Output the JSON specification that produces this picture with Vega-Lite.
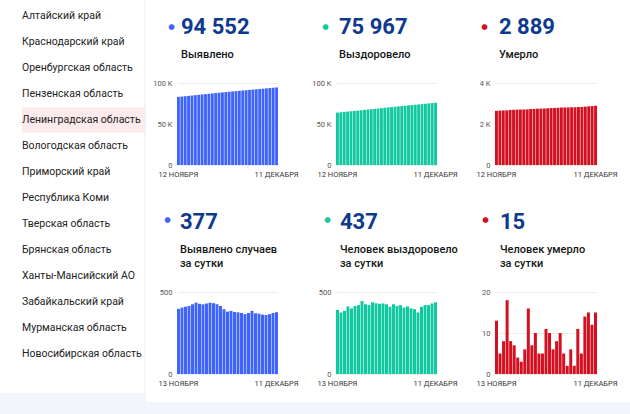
{
  "$schema": "https://vega.github.io/schema/vega-lite/v6.json",
  "background": "#ffffff",
  "padding": 0,
  "columns": 4,
  "align": "none",
  "bounds": "flush",
  "spacing": {"row": 127, "column": 58},
  "config": {
    "font": "Roboto",
    "view": {"stroke": null},
    "axisX": {"domain": false, "ticks": false, "grid": false, "labelAngle": 0, "labelFontSize": 7.5, "labelColor": "#333333", "labelPadding": 5, "title": null},
    "axisY": {"domain": false, "ticks": false, "grid": true, "gridColor": "#ececec", "labelFontSize": 7.5, "labelColor": "#555555", "labelPadding": 5, "titleAngle": 0, "titleFont": "DejaVu Sans", "titleFontSize": 7.5, "titleAlign": "center", "titleBaseline": "middle"},
    "title": {"anchor": "start", "frame": "group", "font": "Roboto", "fontSize": 22, "fontWeight": 700, "color": "#0d3a8f", "subtitleFont": "Roboto", "subtitleFontSize": 11, "subtitleFontWeight": 500, "subtitleColor": "#151515", "subtitleLineHeight": 14.3, "subtitlePadding": 10}
  },
  "datasets": {
    "regions": [
      {"order": 1, "region": "Алтайский край"},
      {"order": 2, "region": "Краснодарский край"},
      {"order": 3, "region": "Оренбургская область"},
      {"order": 4, "region": "Пензенская область"},
      {"order": 5, "region": "Ленинградская область"},
      {"order": 6, "region": "Вологодская область"},
      {"order": 7, "region": "Приморский край"},
      {"order": 8, "region": "Республика Коми"},
      {"order": 9, "region": "Тверская область"},
      {"order": 10, "region": "Брянская область"},
      {"order": 11, "region": "Ханты-Мансийский АО"},
      {"order": 12, "region": "Забайкальский край"},
      {"order": 13, "region": "Мурманская область"},
      {"order": 14, "region": "Новосибирская область"}
    ],
    "cumBlue": [
      {"date": "12 НОЯБРЯ", "value": 83093}, {"date": "13 НОЯБРЯ", "value": 83490}, {"date": "14 НОЯБРЯ", "value": 83895}, {"date": "15 НОЯБРЯ", "value": 84305}, {"date": "16 НОЯБРЯ", "value": 84720}, {"date": "17 НОЯБРЯ", "value": 85145}, {"date": "18 НОЯБРЯ", "value": 85580}, {"date": "19 НОЯБРЯ", "value": 86008}, {"date": "20 НОЯБРЯ", "value": 86433}, {"date": "21 НОЯБРЯ", "value": 86863}, {"date": "22 НОЯБРЯ", "value": 87298}, {"date": "23 НОЯБРЯ", "value": 87730}, {"date": "24 НОЯБРЯ", "value": 88155}, {"date": "25 НОЯБРЯ", "value": 88570}, {"date": "26 НОЯБРЯ", "value": 88965}, {"date": "27 НОЯБРЯ", "value": 89345}, {"date": "28 НОЯБРЯ", "value": 89730}, {"date": "29 НОЯБРЯ", "value": 90108}, {"date": "30 НОЯБРЯ", "value": 90484}, {"date": "1 ДЕКАБРЯ", "value": 90856}, {"date": "2 ДЕКАБРЯ", "value": 91221}, {"date": "3 ДЕКАБРЯ", "value": 91593}, {"date": "4 ДЕКАБРЯ", "value": 91978}, {"date": "5 ДЕКАБРЯ", "value": 92348}, {"date": "6 ДЕКАБРЯ", "value": 92716}, {"date": "7 ДЕКАБРЯ", "value": 93078}, {"date": "8 ДЕКАБРЯ", "value": 93438}, {"date": "9 ДЕКАБРЯ", "value": 93803}, {"date": "10 ДЕКАБРЯ", "value": 94175}, {"date": "11 ДЕКАБРЯ", "value": 94552}
    ],
    "cumGreen": [
      {"date": "12 НОЯБРЯ", "value": 63953}, {"date": "13 НОЯБРЯ", "value": 64344}, {"date": "14 НОЯБРЯ", "value": 64719}, {"date": "15 НОЯБРЯ", "value": 65104}, {"date": "16 НОЯБРЯ", "value": 65516}, {"date": "17 НОЯБРЯ", "value": 65916}, {"date": "18 НОЯБРЯ", "value": 66331}, {"date": "19 НОЯБРЯ", "value": 66751}, {"date": "20 НОЯБРЯ", "value": 67196}, {"date": "21 НОЯБРЯ", "value": 67621}, {"date": "22 НОЯБРЯ", "value": 68041}, {"date": "23 НОЯБРЯ", "value": 68478}, {"date": "24 НОЯБРЯ", "value": 68910}, {"date": "25 НОЯБРЯ", "value": 69338}, {"date": "26 НОЯБРЯ", "value": 69768}, {"date": "27 НОЯБРЯ", "value": 70193}, {"date": "28 НОЯБРЯ", "value": 70603}, {"date": "29 НОЯБРЯ", "value": 71028}, {"date": "30 НОЯБРЯ", "value": 71443}, {"date": "1 ДЕКАБРЯ", "value": 71863}, {"date": "2 ДЕКАБРЯ", "value": 72268}, {"date": "3 ДЕКАБРЯ", "value": 72680}, {"date": "4 ДЕКАБРЯ", "value": 73080}, {"date": "5 ДЕКАБРЯ", "value": 73475}, {"date": "6 ДЕКАБРЯ", "value": 73850}, {"date": "7 ДЕКАБРЯ", "value": 74260}, {"date": "8 ДЕКАБРЯ", "value": 74680}, {"date": "9 ДЕКАБРЯ", "value": 75100}, {"date": "10 ДЕКАБРЯ", "value": 75530}, {"date": "11 ДЕКАБРЯ", "value": 75967}
    ],
    "cumRed": [
      {"date": "12 НОЯБРЯ", "value": 2642}, {"date": "13 НОЯБРЯ", "value": 2655}, {"date": "14 НОЯБРЯ", "value": 2660}, {"date": "15 НОЯБРЯ", "value": 2668}, {"date": "16 НОЯБРЯ", "value": 2686}, {"date": "17 НОЯБРЯ", "value": 2694}, {"date": "18 НОЯБРЯ", "value": 2701}, {"date": "19 НОЯБРЯ", "value": 2705}, {"date": "20 НОЯБРЯ", "value": 2708}, {"date": "21 НОЯБРЯ", "value": 2714}, {"date": "22 НОЯБРЯ", "value": 2730}, {"date": "23 НОЯБРЯ", "value": 2737}, {"date": "24 НОЯБРЯ", "value": 2747}, {"date": "25 НОЯБРЯ", "value": 2752}, {"date": "26 НОЯБРЯ", "value": 2757}, {"date": "27 НОЯБРЯ", "value": 2768}, {"date": "28 НОЯБРЯ", "value": 2778}, {"date": "29 НОЯБРЯ", "value": 2784}, {"date": "30 НОЯБРЯ", "value": 2792}, {"date": "1 ДЕКАБРЯ", "value": 2802}, {"date": "2 ДЕКАБРЯ", "value": 2807}, {"date": "3 ДЕКАБРЯ", "value": 2809}, {"date": "4 ДЕКАБРЯ", "value": 2815}, {"date": "5 ДЕКАБРЯ", "value": 2817}, {"date": "6 ДЕКАБРЯ", "value": 2828}, {"date": "7 ДЕКАБРЯ", "value": 2833}, {"date": "8 ДЕКАБРЯ", "value": 2847}, {"date": "9 ДЕКАБРЯ", "value": 2862}, {"date": "10 ДЕКАБРЯ", "value": 2874}, {"date": "11 ДЕКАБРЯ", "value": 2889}
    ],
    "dayBlue": [
      {"date": "13 НОЯБРЯ", "value": 397}, {"date": "14 НОЯБРЯ", "value": 405}, {"date": "15 НОЯБРЯ", "value": 410}, {"date": "16 НОЯБРЯ", "value": 415}, {"date": "17 НОЯБРЯ", "value": 425}, {"date": "18 НОЯБРЯ", "value": 435}, {"date": "19 НОЯБРЯ", "value": 428}, {"date": "20 НОЯБРЯ", "value": 425}, {"date": "21 НОЯБРЯ", "value": 430}, {"date": "22 НОЯБРЯ", "value": 435}, {"date": "23 НОЯБРЯ", "value": 432}, {"date": "24 НОЯБРЯ", "value": 425}, {"date": "25 НОЯБРЯ", "value": 415}, {"date": "26 НОЯБРЯ", "value": 395}, {"date": "27 НОЯБРЯ", "value": 380}, {"date": "28 НОЯБРЯ", "value": 385}, {"date": "29 НОЯБРЯ", "value": 378}, {"date": "30 НОЯБРЯ", "value": 376}, {"date": "1 ДЕКАБРЯ", "value": 372}, {"date": "2 ДЕКАБРЯ", "value": 365}, {"date": "3 ДЕКАБРЯ", "value": 372}, {"date": "4 ДЕКАБРЯ", "value": 385}, {"date": "5 ДЕКАБРЯ", "value": 370}, {"date": "6 ДЕКАБРЯ", "value": 368}, {"date": "7 ДЕКАБРЯ", "value": 362}, {"date": "8 ДЕКАБРЯ", "value": 360}, {"date": "9 ДЕКАБРЯ", "value": 365}, {"date": "10 ДЕКАБРЯ", "value": 372}, {"date": "11 ДЕКАБРЯ", "value": 377}
    ],
    "dayGreen": [
      {"date": "13 НОЯБРЯ", "value": 391}, {"date": "14 НОЯБРЯ", "value": 375}, {"date": "15 НОЯБРЯ", "value": 385}, {"date": "16 НОЯБРЯ", "value": 412}, {"date": "17 НОЯБРЯ", "value": 400}, {"date": "18 НОЯБРЯ", "value": 415}, {"date": "19 НОЯБРЯ", "value": 420}, {"date": "20 НОЯБРЯ", "value": 445}, {"date": "21 НОЯБРЯ", "value": 425}, {"date": "22 НОЯБРЯ", "value": 420}, {"date": "23 НОЯБРЯ", "value": 437}, {"date": "24 НОЯБРЯ", "value": 432}, {"date": "25 НОЯБРЯ", "value": 428}, {"date": "26 НОЯБРЯ", "value": 430}, {"date": "27 НОЯБРЯ", "value": 425}, {"date": "28 НОЯБРЯ", "value": 410}, {"date": "29 НОЯБРЯ", "value": 425}, {"date": "30 НОЯБРЯ", "value": 415}, {"date": "1 ДЕКАБРЯ", "value": 420}, {"date": "2 ДЕКАБРЯ", "value": 405}, {"date": "3 ДЕКАБРЯ", "value": 412}, {"date": "4 ДЕКАБРЯ", "value": 400}, {"date": "5 ДЕКАБРЯ", "value": 395}, {"date": "6 ДЕКАБРЯ", "value": 375}, {"date": "7 ДЕКАБРЯ", "value": 410}, {"date": "8 ДЕКАБРЯ", "value": 420}, {"date": "9 ДЕКАБРЯ", "value": 420}, {"date": "10 ДЕКАБРЯ", "value": 430}, {"date": "11 ДЕКАБРЯ", "value": 437}
    ],
    "dayRed": [
      {"date": "13 НОЯБРЯ", "value": 13}, {"date": "14 НОЯБРЯ", "value": 5}, {"date": "15 НОЯБРЯ", "value": 8}, {"date": "16 НОЯБРЯ", "value": 18}, {"date": "17 НОЯБРЯ", "value": 8}, {"date": "18 НОЯБРЯ", "value": 7}, {"date": "19 НОЯБРЯ", "value": 4}, {"date": "20 НОЯБРЯ", "value": 3}, {"date": "21 НОЯБРЯ", "value": 6}, {"date": "22 НОЯБРЯ", "value": 16}, {"date": "23 НОЯБРЯ", "value": 7}, {"date": "24 НОЯБРЯ", "value": 10}, {"date": "25 НОЯБРЯ", "value": 5}, {"date": "26 НОЯБРЯ", "value": 5}, {"date": "27 НОЯБРЯ", "value": 11}, {"date": "28 НОЯБРЯ", "value": 10}, {"date": "29 НОЯБРЯ", "value": 6}, {"date": "30 НОЯБРЯ", "value": 8}, {"date": "1 ДЕКАБРЯ", "value": 10}, {"date": "2 ДЕКАБРЯ", "value": 5}, {"date": "3 ДЕКАБРЯ", "value": 2}, {"date": "4 ДЕКАБРЯ", "value": 6}, {"date": "5 ДЕКАБРЯ", "value": 2}, {"date": "6 ДЕКАБРЯ", "value": 11}, {"date": "7 ДЕКАБРЯ", "value": 5}, {"date": "8 ДЕКАБРЯ", "value": 14}, {"date": "9 ДЕКАБРЯ", "value": 15}, {"date": "10 ДЕКАБРЯ", "value": 12}, {"date": "11 ДЕКАБРЯ", "value": 15}
    ]
  },
  "concat": [
    {
      "width": 119, "height": 82,
      "data": {"name": "regions"},
      "transform": [{"filter": "datum.order <= 7"}],
      "encoding": {"y": {"field": "order", "type": "quantitative", "scale": {"domain": [3.57692, 6.73077], "reverse": true, "nice": false, "zero": false}, "axis": null}},
      "layer": [
        {"transform": [{"filter": "datum.region === 'Ленинградская область'"}], "mark": {"type": "rule", "color": "#fdeaea", "strokeWidth": 25.5, "strokeCap": "butt"}, "encoding": {"x": {"value": 22}, "x2": {"value": 145}}},
        {"transform": [{"filter": "datum.order === 1"}], "mark": {"type": "rule", "color": "#eceef4", "strokeWidth": 1}, "encoding": {"x": {"value": 145}, "y": {"datum": 0.40385, "type": "quantitative"}, "y2": {"datum": 15.84615}}},
        {"mark": {"type": "text", "align": "left", "baseline": "middle", "fontSize": 10.5, "color": "#222222"}, "encoding": {"x": {"value": 22}, "text": {"field": "region"}}}
      ]
    },
    {
      "width": 101, "height": 82,
      "data": {"name": "cumBlue"},
      "title": {"text": "94 552", "subtitle": "Выявлено", "dx": 4, "offset": -39},
      "mark": {"type": "bar", "color": "#3f64fc"},
      "encoding": {
        "x": {"field": "date", "type": "ordinal", "sort": null, "scale": {"paddingInner": 0.15, "paddingOuter": 0}, "axis": {"values": ["12 НОЯБРЯ", "11 ДЕКАБРЯ"]}},
        "y": {"field": "value", "type": "quantitative", "scale": {"domain": [0, 100000]}, "axis": {"values": [0, 50000, 100000], "labelExpr": "datum.value >= 1000 ? (datum.value / 1000) + ' K' : datum.value + ''", "title": "●", "titleColor": "#3f64fc", "titleX": -6, "titleY": -57}}
      }
    },
    {
      "width": 101, "height": 82,
      "data": {"name": "cumGreen"},
      "title": {"text": "75 967", "subtitle": "Выздоровело", "dx": 3, "offset": -39},
      "mark": {"type": "bar", "color": "#11c8a1"},
      "encoding": {
        "x": {"field": "date", "type": "ordinal", "sort": null, "scale": {"paddingInner": 0.15, "paddingOuter": 0}, "axis": {"values": ["12 НОЯБРЯ", "11 ДЕКАБРЯ"]}},
        "y": {"field": "value", "type": "quantitative", "scale": {"domain": [0, 100000]}, "axis": {"values": [0, 50000, 100000], "labelExpr": "datum.value >= 1000 ? (datum.value / 1000) + ' K' : datum.value + ''", "title": "●", "titleColor": "#11c8a1", "titleX": -11, "titleY": -57}}
      }
    },
    {
      "width": 102, "height": 82,
      "data": {"name": "cumRed"},
      "title": {"text": "2 889", "subtitle": "Умерло", "dx": 4, "offset": -39},
      "mark": {"type": "bar", "color": "#d40f1f"},
      "encoding": {
        "x": {"field": "date", "type": "ordinal", "sort": null, "scale": {"paddingInner": 0.15, "paddingOuter": 0}, "axis": {"values": ["12 НОЯБРЯ", "11 ДЕКАБРЯ"]}},
        "y": {"field": "value", "type": "quantitative", "scale": {"domain": [0, 4000]}, "axis": {"values": [0, 2000, 4000], "labelExpr": "datum.value >= 1000 ? (datum.value / 1000) + ' K' : datum.value + ''", "title": "●", "titleColor": "#d40f1f", "titleX": -11, "titleY": -57}}
      }
    },
    {
      "width": 119, "height": 82,
      "data": {"name": "regions"},
      "transform": [{"filter": "datum.order > 7"}],
      "encoding": {"y": {"field": "order", "type": "quantitative", "scale": {"domain": [11.61538, 14.76923], "reverse": true, "nice": false, "zero": false}, "axis": null}},
      "layer": [
        {"transform": [{"filter": "datum.order === 14"}], "mark": {"type": "rect", "color": "#f2f5fc"}, "encoding": {"x": {"value": 0}, "x2": {"value": 145}, "y": {"datum": 15.5, "type": "quantitative"}, "y2": {"datum": 16.30769}}},
        {"transform": [{"filter": "datum.order === 14"}], "mark": {"type": "rect", "color": "#f2f5fc"}, "encoding": {"x": {"value": 145}, "x2": {"value": 630}, "y": {"datum": 15.84615, "type": "quantitative"}, "y2": {"datum": 16.30769}}},
        {"mark": {"type": "text", "align": "left", "baseline": "middle", "fontSize": 10.5, "color": "#222222"}, "encoding": {"x": {"value": 22}, "text": {"field": "region"}}}
      ]
    },
    {
      "width": 101, "height": 82,
      "data": {"name": "dayBlue"},
      "title": {"text": "377", "subtitle": ["Выявлено случаев", "за сутки"], "dx": 3, "offset": -55},
      "mark": {"type": "bar", "color": "#3f64fc"},
      "encoding": {
        "x": {"field": "date", "type": "ordinal", "sort": null, "scale": {"paddingInner": 0.15, "paddingOuter": 0}, "axis": {"values": ["13 НОЯБРЯ", "11 ДЕКАБРЯ"]}},
        "y": {"field": "value", "type": "quantitative", "scale": {"domain": [0, 500]}, "axis": {"values": [0, 500], "title": "●", "titleColor": "#3f64fc", "titleX": -10, "titleY": -73}}
      }
    },
    {
      "width": 101, "height": 82,
      "data": {"name": "dayGreen"},
      "title": {"text": "437", "subtitle": ["Человек выздоровело", "за сутки"], "dx": 4, "offset": -55},
      "mark": {"type": "bar", "color": "#11c8a1"},
      "encoding": {
        "x": {"field": "date", "type": "ordinal", "sort": null, "scale": {"paddingInner": 0.15, "paddingOuter": 0}, "axis": {"values": ["13 НОЯБРЯ", "11 ДЕКАБРЯ"]}},
        "y": {"field": "value", "type": "quantitative", "scale": {"domain": [0, 500]}, "axis": {"values": [0, 500], "title": "●", "titleColor": "#11c8a1", "titleX": -9, "titleY": -73}}
      }
    },
    {
      "width": 102, "height": 82,
      "data": {"name": "dayRed"},
      "title": {"text": "15", "subtitle": ["Человек умерло", "за сутки"], "dx": 5, "offset": -55},
      "mark": {"type": "bar", "color": "#d40f1f"},
      "encoding": {
        "x": {"field": "date", "type": "ordinal", "sort": null, "scale": {"paddingInner": 0.15, "paddingOuter": 0}, "axis": {"values": ["13 НОЯБРЯ", "11 ДЕКАБРЯ"]}},
        "y": {"field": "value", "type": "quantitative", "scale": {"domain": [0, 20]}, "axis": {"values": [0, 10, 20], "title": "●", "titleColor": "#d40f1f", "titleX": -10, "titleY": -73}}
      }
    }
  ]
}
